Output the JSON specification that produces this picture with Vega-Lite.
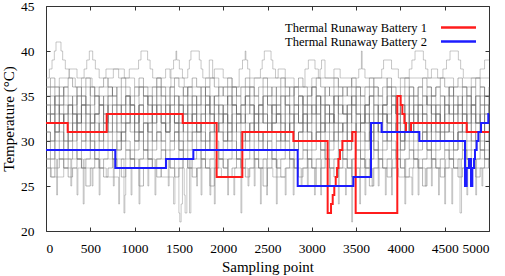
{
"$schema":"https://vega.github.io/schema/vega-lite/v6.json",
"width":443,"height":225,
"autosize":{"type":"none"},
"padding":{"left":46,"top":6,"right":16,"bottom":45},
"config":{
"view":{"stroke":"#333","strokeWidth":1},
"font":"Liberation Serif, Times New Roman, serif",
"axis":{"grid":false,"domain":false,"tickColor":"#333","tickSize":-4,"labelFont":"Liberation Serif, Times New Roman, serif","labelFontSize":13.5,"labelColor":"#000","titleFont":"Liberation Serif, Times New Roman, serif","titleFontSize":15,"titleFontWeight":"normal","titleColor":"#000"}
},
"datasets":{
"cells":[
{"x":0,"a":34,"b":33,"c":32,"d":31,"e":30,"f":29,"g":28,"h":35,"i":36,"j":32,"k":33,"l":27,"m":34,"n":31},
{"x":50,"a":35,"b":32,"c":33,"d":30,"e":29,"f":28,"g":27,"h":36,"i":37,"j":33,"k":34,"l":26,"m":33,"n":30},
{"x":100,"a":33,"b":34,"c":31,"d":32,"e":31,"f":30,"g":29,"h":34,"i":36,"j":31,"k":35,"l":27,"m":35,"n":32},
{"x":150,"a":34,"b":33,"c":32,"d":31,"e":30,"f":29,"g":28,"h":35,"i":35,"j":34,"k":32,"l":28,"m":36,"n":33},
{"x":200,"a":35,"b":32,"c":33,"d":30,"e":29,"f":28,"g":27,"h":36,"i":36,"j":30,"k":33,"l":27,"m":34,"n":29},
{"x":250,"a":34,"b":34,"c":31,"d":31,"e":30,"f":30,"g":28,"h":35,"i":37,"j":32,"k":34,"l":26,"m":33,"n":31},
{"x":300,"a":33,"b":33,"c":32,"d":32,"e":31,"f":29,"g":29,"h":34,"i":36,"j":33,"k":31,"l":27,"m":35,"n":30},
{"x":350,"a":35,"b":32,"c":33,"d":31,"e":29,"f":28,"g":28,"h":36,"i":35,"j":31,"k":33,"l":28,"m":32,"n":32},
{"x":400,"a":34,"b":34,"c":32,"d":30,"e":30,"f":29,"g":27,"h":35,"i":36,"j":34,"k":35,"l":27,"m":34,"n":33},
{"x":450,"a":33,"b":33,"c":31,"d":31,"e":31,"f":30,"g":28,"h":34,"i":37,"j":32,"k":34,"l":25,"m":36,"n":31},
{"x":500,"a":34,"b":32,"c":33,"d":32,"e":30,"f":29,"g":29,"h":36,"i":36,"j":30,"k":32,"l":27,"m":35,"n":29},
{"x":550,"a":35,"b":33,"c":32,"d":31,"e":29,"f":28,"g":28,"h":35,"i":35,"j":33,"k":33,"l":28,"m":33,"n":30},
{"x":600,"a":34,"b":34,"c":31,"d":30,"e":30,"f":29,"g":27,"h":34,"i":36,"j":31,"k":35,"l":27,"m":34,"n":32},
{"x":650,"a":33,"b":32,"c":32,"d":31,"e":31,"f":30,"g":28,"h":35,"i":37,"j":32,"k":34,"l":26,"m":32,"n":33},
{"x":700,"a":35,"b":33,"c":33,"d":32,"e":30,"f":29,"g":29,"h":36,"i":36,"j":34,"k":31,"l":27,"m":35,"n":31},
{"x":750,"a":34,"b":34,"c":32,"d":31,"e":29,"f":28,"g":28,"h":35,"i":35,"j":33,"k":33,"l":28,"m":36,"n":30},
{"x":800,"a":33,"b":33,"c":31,"d":30,"e":30,"f":29,"g":27,"h":34,"i":36,"j":31,"k":32,"l":27,"m":34,"n":29},
{"x":850,"a":34,"b":32,"c":32,"d":31,"e":31,"f":30,"g":28,"h":36,"i":37,"j":30,"k":34,"l":26,"m":33,"n":31},
{"x":900,"a":35,"b":34,"c":33,"d":32,"e":30,"f":29,"g":29,"h":35,"i":36,"j":32,"k":35,"l":27,"m":35,"n":32},
{"x":950,"a":34,"b":33,"c":32,"d":31,"e":29,"f":28,"g":28,"h":34,"i":35,"j":34,"k":33,"l":28,"m":34,"n":33},
{"x":1000,"a":33,"b":32,"c":31,"d":30,"e":30,"f":29,"g":27,"h":35,"i":36,"j":33,"k":31,"l":27,"m":32,"n":30},
{"x":1050,"a":34,"b":34,"c":33,"d":31,"e":31,"f":30,"g":28,"h":36,"i":37,"j":31,"k":34,"l":25,"m":36,"n":31},
{"x":1100,"a":35,"b":33,"c":32,"d":32,"e":30,"f":29,"g":29,"h":35,"i":36,"j":32,"k":33,"l":27,"m":35,"n":29},
{"x":1150,"a":34,"b":32,"c":31,"d":31,"e":29,"f":28,"g":28,"h":34,"i":35,"j":30,"k":35,"l":28,"m":33,"n":32},
{"x":1200,"a":33,"b":34,"c":32,"d":30,"e":30,"f":29,"g":27,"h":35,"i":36,"j":33,"k":32,"l":27,"m":34,"n":33},
{"x":1250,"a":35,"b":33,"c":33,"d":31,"e":31,"f":30,"g":28,"h":36,"i":37,"j":34,"k":34,"l":26,"m":36,"n":31},
{"x":1300,"a":34,"b":32,"c":32,"d":32,"e":30,"f":29,"g":29,"h":35,"i":36,"j":32,"k":33,"l":27,"m":35,"n":30},
{"x":1350,"a":33,"b":34,"c":31,"d":31,"e":29,"f":28,"g":28,"h":34,"i":35,"j":31,"k":31,"l":28,"m":33,"n":32},
{"x":1400,"a":34,"b":33,"c":33,"d":30,"e":30,"f":29,"g":27,"h":36,"i":36,"j":33,"k":35,"l":27,"m":34,"n":33},
{"x":1450,"a":35,"b":32,"c":32,"d":31,"e":31,"f":30,"g":28,"h":35,"i":37,"j":32,"k":34,"l":26,"m":32,"n":31},
{"x":1500,"a":34,"b":34,"c":31,"d":32,"e":30,"f":29,"g":29,"h":34,"i":36,"j":30,"k":32,"l":27,"m":35,"n":29},
{"x":1550,"a":33,"b":33,"c":32,"d":31,"e":29,"f":28,"g":28,"h":35,"i":35,"j":34,"k":33,"l":28,"m":36,"n":30},
{"x":1600,"a":34,"b":32,"c":33,"d":30,"e":30,"f":29,"g":27,"h":36,"i":36,"j":31,"k":35,"l":27,"m":34,"n":32},
{"x":1650,"a":35,"b":34,"c":32,"d":31,"e":31,"f":30,"g":28,"h":35,"i":37,"j":33,"k":34,"l":26,"m":33,"n":33},
{"x":1700,"a":34,"b":33,"c":31,"d":32,"e":30,"f":29,"g":29,"h":34,"i":36,"j":32,"k":31,"l":27,"m":35,"n":31},
{"x":1750,"a":33,"b":32,"c":32,"d":31,"e":29,"f":28,"g":28,"h":36,"i":35,"j":30,"k":33,"l":28,"m":34,"n":30},
{"x":1800,"a":34,"b":34,"c":33,"d":30,"e":30,"f":29,"g":27,"h":35,"i":36,"j":34,"k":35,"l":27,"m":36,"n":29},
{"x":1850,"a":35,"b":33,"c":32,"d":31,"e":31,"f":30,"g":28,"h":34,"i":37,"j":33,"k":32,"l":25,"m":33,"n":32},
{"x":1900,"a":34,"b":32,"c":31,"d":32,"e":30,"f":29,"g":29,"h":35,"i":36,"j":31,"k":34,"l":27,"m":35,"n":33},
{"x":1950,"a":33,"b":34,"c":32,"d":31,"e":29,"f":28,"g":28,"h":36,"i":35,"j":32,"k":33,"l":28,"m":34,"n":31},
{"x":2000,"a":34,"b":33,"c":33,"d":30,"e":30,"f":29,"g":27,"h":35,"i":36,"j":33,"k":31,"l":27,"m":32,"n":30},
{"x":2050,"a":35,"b":32,"c":32,"d":31,"e":31,"f":30,"g":28,"h":34,"i":37,"j":30,"k":35,"l":26,"m":36,"n":32},
{"x":2100,"a":34,"b":34,"c":31,"d":32,"e":30,"f":29,"g":29,"h":36,"i":36,"j":34,"k":34,"l":27,"m":35,"n":33},
{"x":2150,"a":33,"b":33,"c":32,"d":31,"e":29,"f":28,"g":28,"h":35,"i":35,"j":32,"k":33,"l":28,"m":33,"n":29},
{"x":2200,"a":34,"b":32,"c":33,"d":30,"e":30,"f":29,"g":27,"h":34,"i":36,"j":31,"k":32,"l":27,"m":34,"n":31},
{"x":2250,"a":35,"b":34,"c":32,"d":31,"e":31,"f":30,"g":28,"h":35,"i":37,"j":33,"k":35,"l":26,"m":36,"n":30},
{"x":2300,"a":34,"b":33,"c":31,"d":32,"e":30,"f":29,"g":29,"h":36,"i":36,"j":34,"k":34,"l":27,"m":35,"n":32},
{"x":2350,"a":33,"b":32,"c":32,"d":31,"e":29,"f":28,"g":28,"h":35,"i":35,"j":30,"k":31,"l":28,"m":33,"n":33},
{"x":2400,"a":34,"b":34,"c":33,"d":30,"e":30,"f":29,"g":27,"h":34,"i":36,"j":32,"k":33,"l":27,"m":34,"n":31},
{"x":2450,"a":35,"b":33,"c":32,"d":31,"e":31,"f":30,"g":28,"h":36,"i":37,"j":33,"k":35,"l":25,"m":32,"n":29},
{"x":2500,"a":34,"b":32,"c":31,"d":32,"e":30,"f":29,"g":29,"h":35,"i":36,"j":31,"k":34,"l":27,"m":35,"n":30},
{"x":2550,"a":33,"b":34,"c":32,"d":31,"e":29,"f":28,"g":28,"h":34,"i":35,"j":34,"k":32,"l":28,"m":36,"n":32},
{"x":2600,"a":34,"b":33,"c":33,"d":30,"e":30,"f":29,"g":27,"h":35,"i":36,"j":32,"k":33,"l":27,"m":34,"n":33},
{"x":2650,"a":35,"b":32,"c":32,"d":31,"e":31,"f":30,"g":28,"h":36,"i":37,"j":30,"k":35,"l":26,"m":33,"n":31},
{"x":2700,"a":34,"b":34,"c":31,"d":32,"e":30,"f":29,"g":29,"h":35,"i":36,"j":33,"k":34,"l":27,"m":35,"n":30},
{"x":2750,"a":33,"b":33,"c":32,"d":31,"e":29,"f":28,"g":28,"h":34,"i":35,"j":31,"k":31,"l":28,"m":36,"n":32},
{"x":2800,"a":34,"b":32,"c":33,"d":30,"e":30,"f":29,"g":27,"h":36,"i":36,"j":34,"k":33,"l":27,"m":34,"n":29},
{"x":2850,"a":35,"b":34,"c":32,"d":31,"e":31,"f":30,"g":28,"h":35,"i":37,"j":32,"k":35,"l":26,"m":32,"n":31},
{"x":2900,"a":34,"b":33,"c":31,"d":32,"e":30,"f":29,"g":29,"h":34,"i":36,"j":33,"k":32,"l":27,"m":35,"n":33},
{"x":2950,"a":33,"b":32,"c":32,"d":31,"e":29,"f":28,"g":28,"h":35,"i":35,"j":31,"k":34,"l":28,"m":34,"n":30},
{"x":3000,"a":34,"b":34,"c":33,"d":30,"e":30,"f":29,"g":27,"h":36,"i":36,"j":30,"k":33,"l":27,"m":36,"n":32},
{"x":3050,"a":35,"b":33,"c":32,"d":31,"e":31,"f":30,"g":28,"h":35,"i":37,"j":34,"k":35,"l":25,"m":33,"n":31},
{"x":3100,"a":34,"b":32,"c":31,"d":32,"e":30,"f":29,"g":29,"h":34,"i":36,"j":32,"k":31,"l":27,"m":35,"n":29},
{"x":3150,"a":33,"b":34,"c":32,"d":31,"e":29,"f":28,"g":28,"h":36,"i":35,"j":33,"k":34,"l":28,"m":34,"n":32},
{"x":3200,"a":34,"b":33,"c":33,"d":30,"e":30,"f":29,"g":27,"h":35,"i":36,"j":31,"k":32,"l":27,"m":32,"n":33},
{"x":3250,"a":35,"b":32,"c":32,"d":31,"e":31,"f":30,"g":28,"h":34,"i":37,"j":34,"k":35,"l":26,"m":36,"n":30},
{"x":3300,"a":34,"b":34,"c":31,"d":32,"e":30,"f":29,"g":29,"h":35,"i":36,"j":32,"k":33,"l":27,"m":35,"n":31},
{"x":3350,"a":33,"b":33,"c":32,"d":31,"e":29,"f":28,"g":28,"h":36,"i":35,"j":30,"k":34,"l":28,"m":33,"n":32},
{"x":3400,"a":34,"b":32,"c":33,"d":30,"e":30,"f":29,"g":27,"h":35,"i":36,"j":33,"k":31,"l":27,"m":34,"n":29},
{"x":3450,"a":35,"b":34,"c":32,"d":31,"e":31,"f":30,"g":28,"h":34,"i":37,"j":34,"k":35,"l":26,"m":36,"n":31},
{"x":3500,"a":34,"b":33,"c":31,"d":32,"e":30,"f":29,"g":29,"h":36,"i":36,"j":31,"k":33,"l":27,"m":35,"n":33},
{"x":3550,"a":33,"b":32,"c":32,"d":31,"e":29,"f":28,"g":28,"h":35,"i":35,"j":32,"k":32,"l":28,"m":34,"n":30},
{"x":3600,"a":34,"b":34,"c":33,"d":30,"e":30,"f":29,"g":27,"h":34,"i":36,"j":33,"k":34,"l":27,"m":32,"n":32},
{"x":3650,"a":35,"b":33,"c":32,"d":31,"e":31,"f":30,"g":28,"h":35,"i":37,"j":30,"k":35,"l":25,"m":36,"n":31},
{"x":3700,"a":34,"b":32,"c":31,"d":32,"e":30,"f":29,"g":29,"h":36,"i":36,"j":34,"k":33,"l":27,"m":35,"n":29},
{"x":3750,"a":33,"b":34,"c":32,"d":31,"e":29,"f":28,"g":28,"h":35,"i":35,"j":32,"k":31,"l":28,"m":33,"n":32},
{"x":3800,"a":34,"b":33,"c":33,"d":30,"e":30,"f":29,"g":27,"h":34,"i":36,"j":31,"k":34,"l":27,"m":34,"n":33},
{"x":3850,"a":35,"b":32,"c":32,"d":31,"e":31,"f":30,"g":28,"h":36,"i":37,"j":33,"k":32,"l":26,"m":36,"n":30},
{"x":3900,"a":34,"b":34,"c":31,"d":32,"e":30,"f":29,"g":29,"h":35,"i":36,"j":34,"k":35,"l":27,"m":35,"n":31},
{"x":3950,"a":33,"b":33,"c":32,"d":31,"e":29,"f":28,"g":28,"h":34,"i":35,"j":32,"k":33,"l":28,"m":33,"n":32},
{"x":4000,"a":34,"b":32,"c":33,"d":30,"e":30,"f":29,"g":27,"h":35,"i":36,"j":30,"k":34,"l":27,"m":34,"n":29},
{"x":4050,"a":35,"b":34,"c":32,"d":31,"e":31,"f":30,"g":28,"h":36,"i":37,"j":33,"k":31,"l":26,"m":32,"n":31},
{"x":4100,"a":34,"b":33,"c":31,"d":32,"e":30,"f":29,"g":29,"h":35,"i":36,"j":31,"k":35,"l":27,"m":36,"n":33},
{"x":4150,"a":33,"b":32,"c":32,"d":31,"e":29,"f":28,"g":28,"h":34,"i":35,"j":34,"k":33,"l":28,"m":35,"n":30},
{"x":4200,"a":34,"b":34,"c":33,"d":30,"e":30,"f":29,"g":27,"h":36,"i":36,"j":32,"k":32,"l":27,"m":34,"n":32},
{"x":4250,"a":35,"b":33,"c":32,"d":31,"e":31,"f":30,"g":28,"h":35,"i":37,"j":33,"k":34,"l":25,"m":33,"n":31},
{"x":4300,"a":34,"b":32,"c":31,"d":32,"e":30,"f":29,"g":29,"h":34,"i":36,"j":30,"k":35,"l":27,"m":36,"n":29},
{"x":4350,"a":33,"b":34,"c":32,"d":31,"e":29,"f":28,"g":28,"h":35,"i":35,"j":34,"k":33,"l":28,"m":35,"n":32},
{"x":4400,"a":34,"b":33,"c":33,"d":30,"e":30,"f":29,"g":27,"h":36,"i":36,"j":31,"k":31,"l":27,"m":34,"n":33},
{"x":4450,"a":35,"b":32,"c":32,"d":31,"e":31,"f":30,"g":28,"h":35,"i":37,"j":32,"k":34,"l":26,"m":32,"n":30},
{"x":4500,"a":34,"b":34,"c":31,"d":32,"e":30,"f":29,"g":29,"h":34,"i":36,"j":33,"k":32,"l":27,"m":35,"n":31},
{"x":4550,"a":33,"b":33,"c":32,"d":31,"e":29,"f":28,"g":28,"h":36,"i":35,"j":34,"k":35,"l":28,"m":36,"n":32},
{"x":4600,"a":34,"b":32,"c":33,"d":30,"e":30,"f":29,"g":27,"h":35,"i":36,"j":30,"k":33,"l":27,"m":34,"n":29},
{"x":4650,"a":35,"b":34,"c":32,"d":31,"e":31,"f":30,"g":28,"h":34,"i":37,"j":32,"k":34,"l":26,"m":33,"n":31},
{"x":4700,"a":34,"b":33,"c":31,"d":32,"e":30,"f":29,"g":29,"h":36,"i":36,"j":33,"k":31,"l":27,"m":35,"n":33},
{"x":4750,"a":33,"b":32,"c":32,"d":31,"e":29,"f":28,"g":28,"h":35,"i":35,"j":31,"k":35,"l":28,"m":34,"n":30},
{"x":4800,"a":34,"b":34,"c":33,"d":30,"e":30,"f":29,"g":27,"h":34,"i":36,"j":34,"k":33,"l":27,"m":36,"n":32},
{"x":4850,"a":35,"b":33,"c":32,"d":31,"e":31,"f":30,"g":28,"h":35,"i":37,"j":32,"k":32,"l":26,"m":32,"n":31},
{"x":4900,"a":34,"b":32,"c":31,"d":32,"e":30,"f":29,"g":29,"h":36,"i":36,"j":33,"k":34,"l":27,"m":35,"n":29},
{"x":4950,"a":33,"b":34,"c":32,"d":31,"e":29,"f":28,"g":28,"h":35,"i":35,"j":30,"k":35,"l":28,"m":34,"n":33},
{"x":5000,"a":34,"b":33,"c":33,"d":30,"e":30,"f":29,"g":27,"h":34,"i":36,"j":31,"k":33,"l":27,"m":33,"n":31}
],
"extra":[
{"s":"h1","x":0,"t":37},{"s":"h1","x":38,"t":38},{"s":"h1","x":68,"t":39},{"s":"h1","x":94,"t":40},{"s":"h1","x":113,"t":41},{"s":"h1","x":169,"t":40},{"s":"h1","x":188,"t":39},{"s":"h1","x":218,"t":38},{"s":"h1","x":263,"t":37},{"s":"h1","x":330,"t":36},{"s":"h1","x":400,"t":37},{"s":"h1","x":430,"t":38},{"s":"h1","x":460,"t":39},{"s":"h1","x":489,"t":40},{"s":"h1","x":527,"t":39},{"s":"h1","x":557,"t":38},{"s":"h1","x":600,"t":37},{"s":"h1","x":677,"t":38},{"s":"h1","x":884,"t":37},{"s":"h1","x":940,"t":38},{"s":"h1","x":1045,"t":39},{"s":"h1","x":1072,"t":40},{"s":"h1","x":1147,"t":39},{"s":"h1","x":1175,"t":38},{"s":"h1","x":1204,"t":37},{"s":"h1","x":1300,"t":36},{"s":"h1","x":1410,"t":38},{"s":"h1","x":1440,"t":39},{"s":"h1","x":1467,"t":40},{"s":"h1","x":1475,"t":39},{"s":"h1","x":1505,"t":38},{"s":"h1","x":1540,"t":37},{"s":"h1","x":1600,"t":38},{"s":"h1","x":1618,"t":39},{"s":"h1","x":1636,"t":40},{"s":"h1","x":1730,"t":39},{"s":"h1","x":1750,"t":38},{"s":"h1","x":1770,"t":37},{"s":"h1","x":1843,"t":39},{"s":"h1","x":1881,"t":37},{"s":"h1","x":1950,"t":36},{"s":"h1","x":2180,"t":38},{"s":"h1","x":2218,"t":39},{"s":"h1","x":2248,"t":40},{"s":"h1","x":2256,"t":39},{"s":"h1","x":2276,"t":38},{"s":"h1","x":2300,"t":37},{"s":"h1","x":2420,"t":38},{"s":"h1","x":2440,"t":39},{"s":"h1","x":2464,"t":40},{"s":"h1","x":2540,"t":39},{"s":"h1","x":2560,"t":38},{"s":"h1","x":2590,"t":37},{"s":"h1","x":2700,"t":36},{"s":"h1","x":2923,"t":38},{"s":"h1","x":2961,"t":39},{"s":"h1","x":3036,"t":38},{"s":"h1","x":3074,"t":37},{"s":"h1","x":3093,"t":38},{"s":"h1","x":3110,"t":39},{"s":"h1","x":3149,"t":37},{"s":"h1","x":3300,"t":36},{"s":"h1","x":3450,"t":37},{"s":"h1","x":3530,"t":38},{"s":"h1","x":3560,"t":40},{"s":"h1","x":3568,"t":38},{"s":"h1","x":3600,"t":37},{"s":"h1","x":3789,"t":38},{"s":"h1","x":3810,"t":39},{"s":"h1","x":3900,"t":38},{"s":"h1","x":3977,"t":37},{"s":"h1","x":4100,"t":38},{"s":"h1","x":4130,"t":39},{"s":"h1","x":4165,"t":40},{"s":"h1","x":4259,"t":39},{"s":"h1","x":4285,"t":38},{"s":"h1","x":4310,"t":37},{"s":"h1","x":4480,"t":38},{"s":"h1","x":4520,"t":39},{"s":"h1","x":4560,"t":40},{"s":"h1","x":4654,"t":39},{"s":"h1","x":4680,"t":38},{"s":"h1","x":4710,"t":37},{"s":"h1","x":4900,"t":38},{"s":"h1","x":4950,"t":39},{"s":"h1","x":5000,"t":39},
{"s":"h2","x":0,"t":36},{"s":"h2","x":150,"t":37},{"s":"h2","x":260,"t":38},{"s":"h2","x":350,"t":37},{"s":"h2","x":520,"t":36},{"s":"h2","x":700,"t":37},{"s":"h2","x":760,"t":38},{"s":"h2","x":820,"t":37},{"s":"h2","x":1000,"t":36},{"s":"h2","x":1250,"t":37},{"s":"h2","x":1350,"t":38},{"s":"h2","x":1400,"t":37},{"s":"h2","x":1560,"t":36},{"s":"h2","x":1800,"t":37},{"s":"h2","x":1900,"t":38},{"s":"h2","x":2000,"t":37},{"s":"h2","x":2100,"t":36},{"s":"h2","x":2350,"t":37},{"s":"h2","x":2620,"t":38},{"s":"h2","x":2700,"t":37},{"s":"h2","x":2800,"t":36},{"s":"h2","x":3000,"t":37},{"s":"h2","x":3250,"t":38},{"s":"h2","x":3320,"t":37},{"s":"h2","x":3450,"t":36},{"s":"h2","x":3700,"t":37},{"s":"h2","x":3850,"t":36},{"s":"h2","x":4000,"t":37},{"s":"h2","x":4350,"t":38},{"s":"h2","x":4420,"t":37},{"s":"h2","x":4600,"t":36},{"s":"h2","x":4800,"t":37},{"s":"h2","x":5000,"t":37},
{"s":"lo1","x":0,"t":28},{"s":"lo1","x":120,"t":24},{"s":"lo1","x":130,"t":28},{"s":"lo1","x":280,"t":25},{"s":"lo1","x":290,"t":28},{"s":"lo1","x":420,"t":23},{"s":"lo1","x":430,"t":28},{"s":"lo1","x":600,"t":24},{"s":"lo1","x":610,"t":28},{"s":"lo1","x":760,"t":25},{"s":"lo1","x":770,"t":28},{"s":"lo1","x":880,"t":22},{"s":"lo1","x":890,"t":24},{"s":"lo1","x":900,"t":28},{"s":"lo1","x":1050,"t":23},{"s":"lo1","x":1060,"t":28},{"s":"lo1","x":1230,"t":24},{"s":"lo1","x":1240,"t":28},{"s":"lo1","x":1380,"t":25},{"s":"lo1","x":1390,"t":28},{"s":"lo1","x":1500,"t":22},{"s":"lo1","x":1510,"t":21},{"s":"lo1","x":1525,"t":23},{"s":"lo1","x":1540,"t":28},{"s":"lo1","x":1620,"t":22},{"s":"lo1","x":1635,"t":28},{"s":"lo1","x":1750,"t":24},{"s":"lo1","x":1760,"t":28},{"s":"lo1","x":1900,"t":23},{"s":"lo1","x":1910,"t":28},{"s":"lo1","x":2050,"t":24},{"s":"lo1","x":2060,"t":28},{"s":"lo1","x":2200,"t":22},{"s":"lo1","x":2210,"t":28},{"s":"lo1","x":2350,"t":25},{"s":"lo1","x":2360,"t":28},{"s":"lo1","x":2490,"t":24},{"s":"lo1","x":2500,"t":28},{"s":"lo1","x":2600,"t":23},{"s":"lo1","x":2610,"t":28},{"s":"lo1","x":2790,"t":24},{"s":"lo1","x":2800,"t":28},{"s":"lo1","x":2950,"t":25},{"s":"lo1","x":2960,"t":28},{"s":"lo1","x":3100,"t":24},{"s":"lo1","x":3110,"t":28},{"s":"lo1","x":3300,"t":23},{"s":"lo1","x":3310,"t":28},{"s":"lo1","x":3450,"t":21},{"s":"lo1","x":3460,"t":28},{"s":"lo1","x":3600,"t":24},{"s":"lo1","x":3610,"t":28},{"s":"lo1","x":3750,"t":25},{"s":"lo1","x":3760,"t":28},{"s":"lo1","x":3900,"t":24},{"s":"lo1","x":3910,"t":28},{"s":"lo1","x":4050,"t":23},{"s":"lo1","x":4060,"t":28},{"s":"lo1","x":4200,"t":24},{"s":"lo1","x":4210,"t":28},{"s":"lo1","x":4350,"t":25},{"s":"lo1","x":4360,"t":28},{"s":"lo1","x":4500,"t":23},{"s":"lo1","x":4510,"t":28},{"s":"lo1","x":4673,"t":22},{"s":"lo1","x":4690,"t":28},{"s":"lo1","x":4850,"t":24},{"s":"lo1","x":4860,"t":28},{"s":"lo1","x":5000,"t":28},
{"s":"lo2","x":0,"t":27},{"s":"lo2","x":60,"t":26},{"s":"lo2","x":200,"t":27},{"s":"lo2","x":350,"t":24},{"s":"lo2","x":360,"t":27},{"s":"lo2","x":520,"t":25},{"s":"lo2","x":530,"t":27},{"s":"lo2","x":680,"t":26},{"s":"lo2","x":820,"t":23},{"s":"lo2","x":830,"t":27},{"s":"lo2","x":960,"t":24},{"s":"lo2","x":970,"t":27},{"s":"lo2","x":1150,"t":25},{"s":"lo2","x":1160,"t":27},{"s":"lo2","x":1300,"t":26},{"s":"lo2","x":1440,"t":23},{"s":"lo2","x":1455,"t":27},{"s":"lo2","x":1560,"t":24},{"s":"lo2","x":1570,"t":22},{"s":"lo2","x":1590,"t":27},{"s":"lo2","x":1700,"t":25},{"s":"lo2","x":1710,"t":27},{"s":"lo2","x":1850,"t":24},{"s":"lo2","x":1860,"t":27},{"s":"lo2","x":1980,"t":26},{"s":"lo2","x":2120,"t":24},{"s":"lo2","x":2130,"t":27},{"s":"lo2","x":2280,"t":25},{"s":"lo2","x":2290,"t":27},{"s":"lo2","x":2420,"t":23},{"s":"lo2","x":2430,"t":27},{"s":"lo2","x":2560,"t":26},{"s":"lo2","x":2700,"t":24},{"s":"lo2","x":2710,"t":27},{"s":"lo2","x":2880,"t":25},{"s":"lo2","x":2890,"t":27},{"s":"lo2","x":3030,"t":24},{"s":"lo2","x":3040,"t":27},{"s":"lo2","x":3200,"t":25},{"s":"lo2","x":3210,"t":27},{"s":"lo2","x":3380,"t":24},{"s":"lo2","x":3390,"t":27},{"s":"lo2","x":3540,"t":23},{"s":"lo2","x":3550,"t":27},{"s":"lo2","x":3680,"t":25},{"s":"lo2","x":3690,"t":27},{"s":"lo2","x":3830,"t":24},{"s":"lo2","x":3840,"t":27},{"s":"lo2","x":3980,"t":26},{"s":"lo2","x":4130,"t":24},{"s":"lo2","x":4140,"t":27},{"s":"lo2","x":4280,"t":25},{"s":"lo2","x":4290,"t":27},{"s":"lo2","x":4430,"t":24},{"s":"lo2","x":4440,"t":27},{"s":"lo2","x":4580,"t":23},{"s":"lo2","x":4590,"t":27},{"s":"lo2","x":4750,"t":24},{"s":"lo2","x":4760,"t":27},{"s":"lo2","x":4920,"t":25},{"s":"lo2","x":4930,"t":27},{"s":"lo2","x":5000,"t":27}
],
"bat":[
{"s":"Thermal Runaway Battery 1","x":0,"t":32},{"s":"Thermal Runaway Battery 1","x":245,"t":31},{"s":"Thermal Runaway Battery 1","x":685,"t":33},{"s":"Thermal Runaway Battery 1","x":1543,"t":32},{"s":"Thermal Runaway Battery 1","x":1926,"t":26},{"s":"Thermal Runaway Battery 1","x":2216,"t":31},{"s":"Thermal Runaway Battery 1","x":2792,"t":30},{"s":"Thermal Runaway Battery 1","x":3179,"t":22},{"s":"Thermal Runaway Battery 1","x":3217,"t":23},{"s":"Thermal Runaway Battery 1","x":3236,"t":24},{"s":"Thermal Runaway Battery 1","x":3254,"t":25},{"s":"Thermal Runaway Battery 1","x":3270,"t":26},{"s":"Thermal Runaway Battery 1","x":3285,"t":27},{"s":"Thermal Runaway Battery 1","x":3300,"t":28},{"s":"Thermal Runaway Battery 1","x":3318,"t":29},{"s":"Thermal Runaway Battery 1","x":3345,"t":30},{"s":"Thermal Runaway Battery 1","x":3458,"t":31},{"s":"Thermal Runaway Battery 1","x":3495,"t":22},{"s":"Thermal Runaway Battery 1","x":3965,"t":35},{"s":"Thermal Runaway Battery 1","x":4003,"t":34},{"s":"Thermal Runaway Battery 1","x":4022,"t":33},{"s":"Thermal Runaway Battery 1","x":4045,"t":32},{"s":"Thermal Runaway Battery 1","x":4063,"t":31},{"s":"Thermal Runaway Battery 1","x":4120,"t":32},{"s":"Thermal Runaway Battery 1","x":4748,"t":31},{"s":"Thermal Runaway Battery 1","x":5000,"t":31},
{"s":"Thermal Runaway Battery 2","x":0,"t":29},{"s":"Thermal Runaway Battery 2","x":782,"t":27},{"s":"Thermal Runaway Battery 2","x":1354,"t":28},{"s":"Thermal Runaway Battery 2","x":1663,"t":29},{"s":"Thermal Runaway Battery 2","x":2841,"t":25},{"s":"Thermal Runaway Battery 2","x":3469,"t":26},{"s":"Thermal Runaway Battery 2","x":3668,"t":32},{"s":"Thermal Runaway Battery 2","x":3788,"t":31},{"s":"Thermal Runaway Battery 2","x":4214,"t":30},{"s":"Thermal Runaway Battery 2","x":4729,"t":25},{"s":"Thermal Runaway Battery 2","x":4748,"t":27},{"s":"Thermal Runaway Battery 2","x":4774,"t":28},{"s":"Thermal Runaway Battery 2","x":4797,"t":25},{"s":"Thermal Runaway Battery 2","x":4812,"t":27},{"s":"Thermal Runaway Battery 2","x":4831,"t":28},{"s":"Thermal Runaway Battery 2","x":4842,"t":29},{"s":"Thermal Runaway Battery 2","x":4861,"t":30},{"s":"Thermal Runaway Battery 2","x":4880,"t":31},{"s":"Thermal Runaway Battery 2","x":4910,"t":32},{"s":"Thermal Runaway Battery 2","x":4992,"t":33},{"s":"Thermal Runaway Battery 2","x":5000,"t":33}
]
},
"layer":[
{"data":{"name":"cells"},
"transform":[{"fold":["a","b","c","d","e","f","g","h","i","j","k","l","m","n"],"as":["s","t"]}],
"mark":{"type":"line","interpolate":"step-after","stroke":"#6a6a6a","strokeWidth":0.9,"opacity":0.55},
"encoding":{
"x":{"field":"x","type":"quantitative","scale":{"domain":[0,5000],"nice":false},"axis":{"orient":"bottom","values":[0,500,1000,1500,2000,2500,3000,3500,4000,4500,5000],"format":"d","title":"Sampling point","labelPadding":14,"titleY":35,"titleBaseline":"middle"}},
"y":{"field":"t","type":"quantitative","scale":{"domain":[20,45],"nice":false,"zero":false},"axis":{"orient":"left","values":[20,25,30,35,40,45],"format":"d","title":"Temperature (°C)","labelPadding":16,"titleX":-38,"titleBaseline":"middle"}},
"detail":{"field":"s"}}},
{"data":{"name":"extra"},
"mark":{"type":"line","interpolate":"step-after","stroke":"#8a8a8a","strokeWidth":0.8,"opacity":0.6},
"encoding":{
"x":{"field":"x","type":"quantitative","axis":{"orient":"top","values":[0,500,1000,1500,2000,2500,3000,3500,4000,4500,5000],"labels":false,"title":null}},
"y":{"field":"t","type":"quantitative","axis":{"orient":"right","values":[20,25,30,35,40,45],"labels":false,"title":null}},
"detail":{"field":"s"}}},
{"data":{"name":"bat"},
"mark":{"type":"line","interpolate":"step-after","strokeWidth":2},
"encoding":{
"x":{"field":"x","type":"quantitative","axis":null},
"y":{"field":"t","type":"quantitative","axis":null},
"color":{"field":"s","type":"nominal","scale":{"domain":["Thermal Runaway Battery 1","Thermal Runaway Battery 2"],"range":["#ff1c1c","#1c1cff"]},
"legend":{"title":null,"orient":"none","legendX":405,"legendY":14,"symbolType":"M-3,0H3","symbolSize":136,"symbolStrokeWidth":2.5,"labelAlign":"right","labelOffset":-39,"labelFont":"Liberation Serif, Times New Roman, serif","labelFontSize":12.5,"labelColor":"#000","rowPadding":-4,"labelLimit":400}}}}
]
}
